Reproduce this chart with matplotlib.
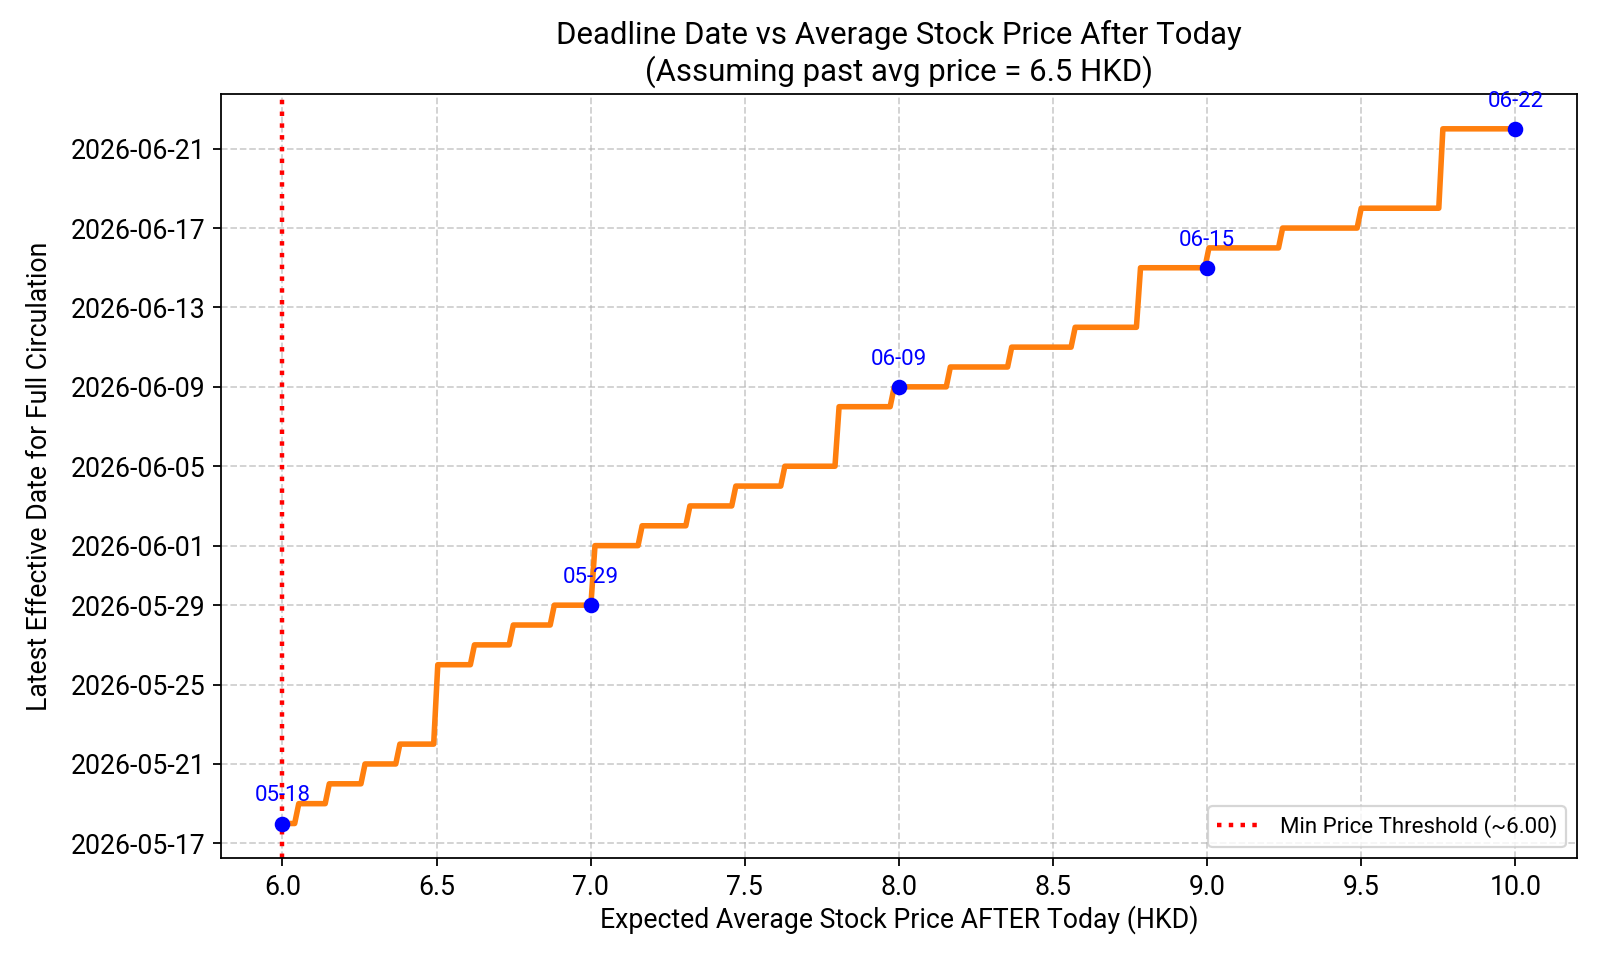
import datetime as dt
import matplotlib
matplotlib.use("Agg")
import matplotlib.pyplot as plt
import matplotlib.dates as mdates

plt.rcParams['font.family'] = ['Roboto', 'DejaVu Sans']

# price at which each new deadline level starts
step_price = [6.000, 6.053, 6.152, 6.268, 6.381, 6.504, 6.623, 6.749, 6.882,
              7.014, 7.167, 7.322, 7.471, 7.630, 7.806, 7.985, 8.167, 8.366,
              8.572, 8.784, 9.006, 9.245, 9.500, 9.765]
step_date = ['2026-05-18', '2026-05-19', '2026-05-20', '2026-05-21', '2026-05-22',
             '2026-05-26', '2026-05-27', '2026-05-28', '2026-05-29', '2026-06-01',
             '2026-06-02', '2026-06-03', '2026-06-04', '2026-06-05', '2026-06-08',
             '2026-06-09', '2026-06-10', '2026-06-11', '2026-06-12', '2026-06-15',
             '2026-06-16', '2026-06-17', '2026-06-18', '2026-06-22']
price_max = 10.0
grid_step = 4.0 / 300  # sampling step of the original price grid

# highlighted points
key_price = [6.0, 7.0, 8.0, 9.0, 10.0]
key_date = ['2026-05-18', '2026-05-29', '2026-06-09', '2026-06-15', '2026-06-22']

threshold = 6.0

def to_dt(s):
    return dt.datetime.strptime(s, '%Y-%m-%d')

# build the line: each level runs until just before the next one starts
xs, ys = [], []
for i, (p, d) in enumerate(zip(step_price, step_date)):
    end = step_price[i + 1] - grid_step if i + 1 < len(step_price) else price_max
    xs += [p, end]
    ys += [to_dt(d), to_dt(d)]

fig, ax = plt.subplots(figsize=(10, 6), dpi=160)
ax.plot(xs, ys, color='#ff7f0e', linewidth=2.5)
ax.axvline(threshold, color='red', linestyle=':', linewidth=2,
           label=f'Min Price Threshold (~{threshold:.2f})')

kd = [to_dt(d) for d in key_date]
ax.plot(key_price, kd, 'o', color='blue', markersize=6, zorder=5)
for p, d in zip(key_price, kd):
    ax.annotate(d.strftime('%m-%d'), (p, d), xytext=(0, 10),
                textcoords='offset points', ha='center', color='blue', fontsize=10)

ax.yaxis.set_major_locator(mdates.DayLocator(bymonthday=[1, 5, 9, 13, 17, 21, 25, 29]))
ax.yaxis.set_major_formatter(mdates.DateFormatter('%Y-%m-%d'))
ax.tick_params(axis='both', labelsize=12)

ax.set_title('Deadline Date vs Average Stock Price After Today\n(Assuming past avg price = 6.5 HKD)',
             fontsize=14)
ax.set_xlabel('Expected Average Stock Price AFTER Today (HKD)', fontsize=12, labelpad=2)
ax.set_ylabel('Latest Effective Date for Full Circulation', fontsize=12, labelpad=8)
ax.grid(True, linestyle='--', alpha=0.6)
ax.legend(loc='lower right')

plt.subplots_adjust(left=0.138, right=0.9856, bottom=0.106, top=0.902)
plt.savefig('out.png')
